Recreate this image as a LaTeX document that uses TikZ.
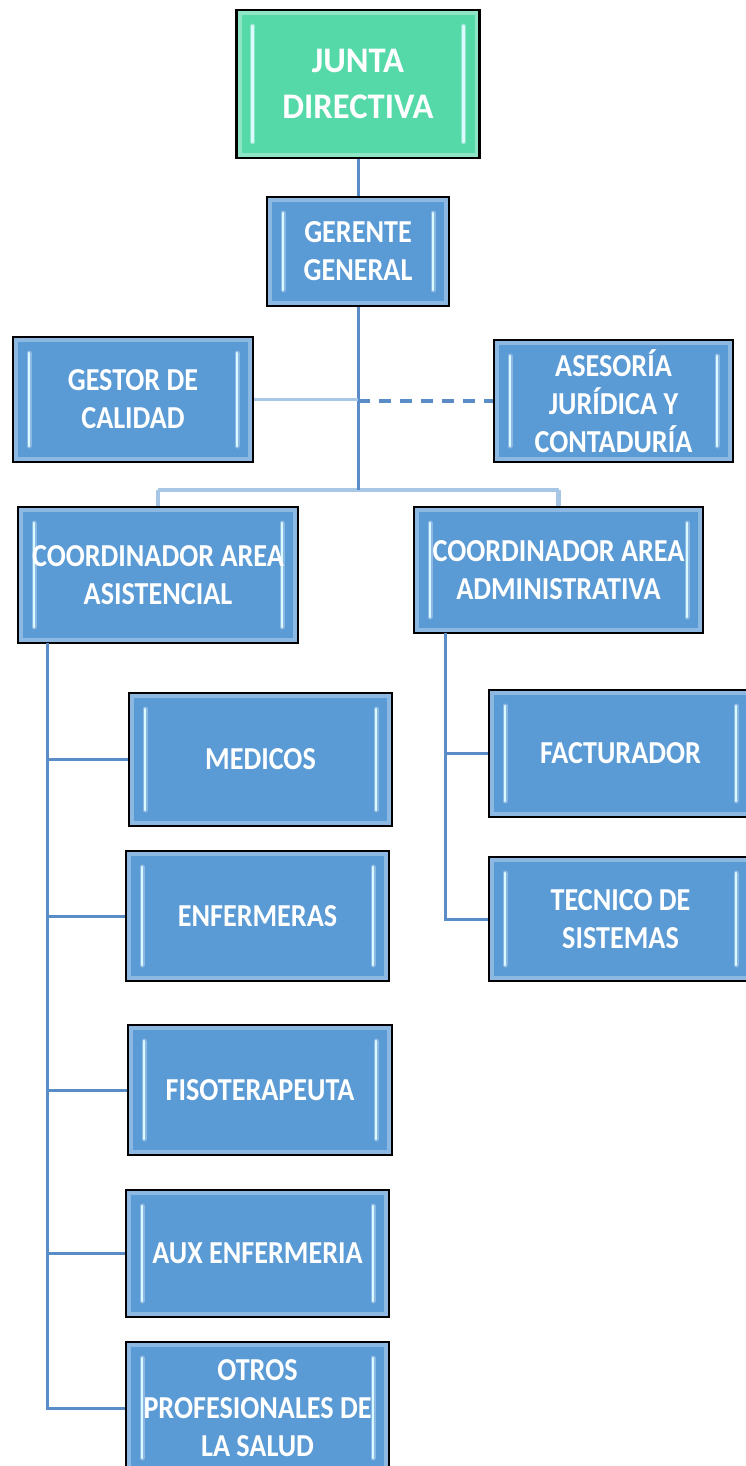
\documentclass[tikz,border=0pt]{standalone}
\usepackage{fontspec}
\newfontfamily\boxfont[FakeStretch=0.88]{Carlito}
\newfontfamily\topfont[FakeStretch=0.96]{Carlito}
\usetikzlibrary{positioning}

\definecolor{boxblue}{HTML}{5B9BD5}
\definecolor{boxrim}{HTML}{8DB8E2}
\definecolor{topgreen}{HTML}{55D9A8}
\definecolor{toprim}{HTML}{8FE6C6}
\definecolor{barcyan}{HTML}{D9FBFF}
\definecolor{linkblue}{HTML}{5A8CC8}
\definecolor{buslight}{HTML}{A8C6E6}

\begin{document}
\begin{tikzpicture}[
  x=1pt, y=-1pt,
  orgbox/.style={draw=black, line width=2.6pt, fill=boxblue, text=white,
    align=center, inner sep=0pt, rimcol=boxrim,
    font={\boxfont\bfseries\fontsize{32}{38}\selectfont},
    path picture={
      \draw[rimcolor, line width=4pt]
        ([shift={(3pt,-3pt)}]path picture bounding box.north west) rectangle
        ([shift={(-3pt,3pt)}]path picture bounding box.south east);
      \draw[rimcolor, line width=5pt, line cap=round]
        ([shift={(16pt,-16pt)}]path picture bounding box.north west) --
        ([shift={(16pt,16pt)}]path picture bounding box.south west);
      \draw[rimcolor, line width=5pt, line cap=round]
        ([shift={(-16pt,-16pt)}]path picture bounding box.north east) --
        ([shift={(-16pt,16pt)}]path picture bounding box.south east);
      \draw[barcyan, line width=2.6pt, line cap=round]
        ([shift={(16pt,-16pt)}]path picture bounding box.north west) --
        ([shift={(16pt,16pt)}]path picture bounding box.south west);
      \draw[barcyan, line width=2.6pt, line cap=round]
        ([shift={(-16pt,-16pt)}]path picture bounding box.north east) --
        ([shift={(-16pt,16pt)}]path picture bounding box.south east);
    }},
  rimcol/.code={\colorlet{rimcolor}{#1}},
  topbox/.style={orgbox, fill=topgreen, rimcol=toprim,
    font={\topfont\bfseries\fontsize{36}{46}\selectfont}},
  link/.style={draw=linkblue, line width=3pt},
  buslink/.style={draw=buslight, line width=4.5pt},
  dashlink/.style={draw=linkblue, line width=4pt, dash pattern=on 12pt off 9pt},
]
\useasboundingbox (0,0) rectangle (745,1466);

% top levels
\node[topbox, minimum width=243pt, minimum height=148pt] (junta) at (358,84) {JUNTA\\DIRECTIVA};
\node[orgbox, minimum width=182pt, minimum height=109pt] (gerente) at (358,251.5) {GERENTE\\GENERAL};
\node[orgbox, minimum width=240pt, minimum height=125pt] (gestor) at (133,399.5) {GESTOR DE\\CALIDAD};
\node[orgbox, minimum width=239pt, minimum height=122pt] (asesoria) at (613.5,401) {ASESORÍA\\JURÍDICA Y\\CONTADURÍA};

% coordinators
\node[orgbox, minimum width=280pt, minimum height=136pt] (coordasis) at (158,575) {COORDINADOR AREA\\ASISTENCIAL};
\node[orgbox, minimum width=289pt, minimum height=126pt] (coordadmin) at (558.5,570) {COORDINADOR AREA\\ADMINISTRATIVA};

% asistencial staff
\node[orgbox, minimum width=263pt, minimum height=133pt] (medicos) at (260.5,759.5) {MEDICOS};
\node[orgbox, minimum width=263pt, minimum height=130pt] (enfermeras) at (257.5,916) {ENFERMERAS};
\node[orgbox, minimum width=264pt, minimum height=130pt] (fisio) at (260,1090) {FISOTERAPEUTA};
\node[orgbox, minimum width=263pt, minimum height=127pt] (auxenf) at (257.5,1253.5) {AUX ENFERMERIA};
\node[orgbox, minimum width=263pt, minimum height=132pt] (otros) at (257.5,1408) {OTROS\\PROFESIONALES DE\\LA SALUD};

% administrativa staff
\node[orgbox, minimum width=263pt, minimum height=127pt] (factur) at (620.5,753.5) {FACTURADOR};
\node[orgbox, minimum width=263pt, minimum height=124pt] (tecnico) at (620.5,919) {TECNICO DE\\SISTEMAS};

\coordinate (bus) at (358,490);
\coordinate (lspine) at (47,643);
\coordinate (rspine) at (445,633);

% connectors
\draw[buslink] (bus -| coordasis) -- (bus -| coordadmin);
\draw[buslink] (bus -| coordasis) -- (coordasis.north);
\draw[buslink] (bus -| coordadmin) -- (coordadmin.north);
\draw[link] (junta.south) -- (gerente.north);
\draw[link] (gerente.south) -- (bus);
\draw[buslink, line width=3.5pt] (gestor.east) -- (gestor.east -| bus);
\draw[dashlink] (asesoria.west -| bus) -- (asesoria.west);

\draw[link] (lspine) |- (otros.west);
\foreach \n in {medicos,enfermeras,fisio,auxenf}
  \draw[link] (lspine |- \n.west) -- (\n.west);
\draw[link] (rspine) |- (tecnico.west);
\draw[link] (rspine |- factur.west) -- (factur.west);
\end{tikzpicture}
\end{document}
